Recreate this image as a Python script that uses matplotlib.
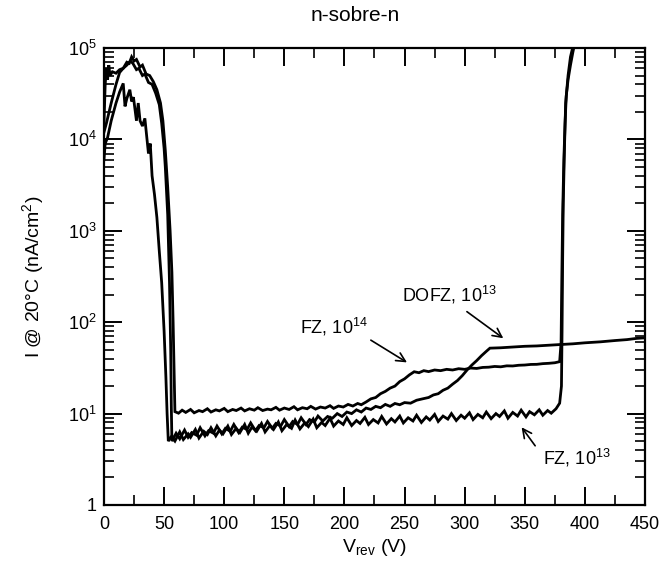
import matplotlib
matplotlib.use("Agg")
import matplotlib.pyplot as plt
from matplotlib.ticker import FixedLocator, LogLocator, NullFormatter

plt.rcParams['font.family'] = ['Liberation Sans', 'DejaVu Sans']
plt.rcParams['mathtext.fontset'] = 'custom'
plt.rcParams['mathtext.rm'] = 'Liberation Sans'
plt.rcParams['mathtext.it'] = 'Liberation Sans:italic'

# --- data (V in volts, I in nA/cm^2) ---
# FZ, 1e14 : upper flat branch, plateau ~30 then breakdown at ~380 V
fz14_v = [0, 1, 2, 3, 4, 5, 7, 10, 13, 16, 19, 21, 23, 25, 27, 30, 32, 35, 38, 41,
          44, 47, 49, 51, 53, 55, 56.5, 57.5, 58.3, 59,
          62, 65, 68, 72, 75, 79, 82, 86, 89, 93, 96, 100, 103, 107, 110, 114, 117,
          121, 125, 128, 132, 136, 139, 143, 146, 150, 154, 158, 161, 165, 169, 172,
          176, 180, 184, 188, 191, 195, 199, 203, 207, 211, 214, 218,
          222, 226, 230, 234, 238, 242, 246, 250, 254, 258,
          262, 266, 270, 275, 280, 285, 290, 295, 300, 305, 310, 315, 320, 325, 330,
          335, 340, 345, 350, 355, 360, 365, 370, 375, 379,
          380.2, 380.8, 381.5, 382.5, 383.5, 384.5, 386, 388, 390, 392]
fz14_i = [1.5e4, 4e4, 6e4, 4.5e4, 6.5e4, 5e4, 5.5e4, 5.3e4, 5.8e4, 6e4, 7e4, 6.8e4,
          8e4, 7.2e4, 7.5e4, 6.2e4, 6.5e4, 5.2e4, 5e4, 4.3e4,
          3.5e4, 2.5e4, 1.6e4, 7.6e3, 3e3, 1e3, 350, 100, 30, 10.5,
          10.1, 10.9, 10.3, 11.1, 10.2, 10.8, 10.5, 11.3, 10.4, 11.0, 10.7, 11.4, 10.5,
          11.1, 10.8, 11.5, 10.7, 11.3, 10.9, 11.6, 10.8, 11.2, 11.0, 11.7, 10.9, 11.5,
          11.1, 11.9, 11.0, 11.6, 11.3, 12.0, 11.2, 11.8, 11.5, 12.2, 11.4, 12.1, 11.8,
          12.6, 12.1, 12.9, 12.5, 13.4,
          14.5, 15.0, 16.5, 17.5, 19.0, 20.0, 22.4, 24.0, 26.5, 28.7,
          28.0, 29.5, 28.8, 30.0, 29.5, 30.5, 30.0, 31.0, 30.5, 31.5, 31.2, 32.0, 32.2,
          32.8, 32.5, 33.3, 33.2, 33.8, 34.0, 34.5, 34.6, 35.2, 35.5, 36.0, 37.0,
          60, 300, 1.5e3, 6e3, 1.5e4, 3e4, 4.5e4, 6.5e4, 9e4, 1.2e5]

# DOFZ, 1e13 : rises to ~55 at 320 V, no breakdown up to 450 V
dofz_v = [0, 2, 6, 10, 13, 16, 19, 22, 24, 27, 29, 32, 34, 37, 40, 43, 46, 48, 50, 51,
          53, 54.5, 55.5, 56, 56.5,
          60, 63, 67, 70, 73, 77, 80, 84, 87, 91, 94, 98, 101, 105, 108, 112, 115,
          119, 122, 126, 129, 133, 136, 140, 143, 147, 150, 154, 157, 161, 164, 168,
          171, 175, 178, 182, 186, 190, 194, 198, 202, 206, 210, 214, 218, 222, 226,
          230, 234, 238, 242, 246, 250, 255, 260, 265, 270, 274, 278, 282, 286, 290,
          294, 298, 302, 306, 310, 314, 318, 321,
          330, 340, 350, 360, 370, 380, 390, 400, 413, 425, 435, 443, 450]
dofz_i = [1.2e4, 1.5e4, 2.5e4, 4e4, 5.4e4, 6e4, 6.5e4, 7.2e4, 6.8e4, 5.8e4, 6e4, 5e4,
          5.2e4, 4.2e4, 4e4, 3.2e4, 2.4e4, 1.5e4, 8e3, 5e3, 1.5e3, 270, 50, 12, 5,
          6.1, 5.3, 6.6, 5.5, 6.2, 5.8, 7.0, 5.7, 6.5, 6.1, 7.3, 6.0, 6.9, 6.4, 7.6,
          6.2, 7.1, 6.7, 7.9, 6.5, 7.4, 7.0, 8.2, 6.9, 7.8, 7.3, 8.6, 7.2, 8.2, 7.6,
          9.0, 7.6, 8.6, 8.1, 9.4, 8.3, 9.3, 8.9, 10.0, 9.3, 10.4, 10.0, 11.0, 10.4,
          11.5, 11.1, 12.0, 11.6, 12.6, 12.0, 12.9, 12.5, 13.2, 13.0, 14.0, 14.5, 15.0,
          16.0, 16.5, 18.0, 19.0, 21.0, 23.0, 26.0, 30.0, 34.0, 38.0, 43.0, 48.0, 52.0,
          52.5, 53.5, 54.5, 55.0, 56.0, 57.0, 58.0, 59.5, 61.0, 63.0, 64.5, 66.5, 67.5]

# FZ, 1e13 : lowest branch, breakdown at ~380 V
fz13_v = [0, 1, 3, 6, 10, 13, 16, 17.5, 19, 21.5, 23, 24.5, 27, 28.5, 30, 32, 34,
          35.5, 37, 38.5, 40, 42, 44, 46, 48, 50, 51.5, 52.5, 53.5,
          56, 59, 63, 66, 70, 72, 76, 79, 83, 86, 89, 93, 96, 99, 103, 106, 110, 113,
          117, 120, 123, 127, 131, 134, 138, 141, 145, 148, 152, 156, 159, 163, 167,
          170, 174, 177, 181, 184, 188, 191, 195, 199, 202, 206, 210, 213, 217, 220,
          224, 228, 231, 235, 239, 242, 246, 249, 253, 257, 260, 264, 268, 271, 275,
          278, 282, 286, 289, 293, 297, 300, 304, 307, 311, 315, 318, 322, 326, 329,
          333, 336, 340, 344, 347, 351, 354, 358, 362, 365, 369, 372, 376, 379,
          380.5, 381, 381.5, 382, 383, 384, 386, 388, 390.5]
fz13_i = [6e3, 9e3, 1.05e4, 1.6e4, 2.5e4, 3.3e4, 4.1e4, 2.3e4, 2.8e4, 3.5e4, 2.6e4,
          2.9e4, 1.6e4, 2.5e4, 1.6e4, 1.4e4, 1.7e4, 1.1e4, 7e3, 9e3, 4e3, 2.5e3,
          1.4e3, 6e2, 2.7e2, 80, 25, 10, 5,
          5.6, 5.0, 6.3, 5.2, 6.0, 5.5, 6.7, 5.4, 6.4, 5.9, 7.0, 5.7, 6.6, 6.0, 7.3,
          5.9, 6.9, 6.2, 7.6, 6.1, 7.1, 6.4, 7.8, 6.3, 7.4, 6.7, 8.1, 6.5, 7.6, 6.9,
          8.5, 6.8, 7.9, 7.2, 8.7, 7.0, 8.0, 7.4, 8.9, 7.3, 8.3, 7.6, 9.0, 7.4, 8.4,
          7.8, 9.1, 7.6, 8.6, 7.9, 9.3, 7.7, 8.8, 8.1, 9.4, 7.9, 9.0, 8.3, 9.6, 8.0,
          9.2, 8.5, 9.8, 8.2, 9.4, 8.7, 10.0, 8.4, 9.6, 8.9, 10.2, 8.6, 9.8, 9.0, 10.4,
          8.8, 10.0, 9.3, 10.7, 8.9, 10.3, 9.4, 10.9, 9.2, 10.5, 9.7, 11.0, 9.6, 10.8,
          10.1, 11.3, 13.0,
          20, 80, 500, 2e3, 8e3, 2.5e4, 5e4, 8e4, 1.1e5]

x_ticks = [0, 50, 100, 150, 200, 250, 300, 350, 400, 450]
y_ticks = [1, 10, 100, 1e3, 1e4, 1e5]
y_tick_labels = ['1', r'10$^1$', r'10$^2$', r'10$^3$', r'10$^4$', r'10$^5$']

fig = plt.figure(figsize=(6.64, 5.69), dpi=100)
ax = fig.add_axes([0.1566, 0.1125, 0.8148, 0.8031])

lw = 2.0
for v, i in [(fz14_v, fz14_i), (dofz_v, dofz_i), (fz13_v, fz13_i)]:
    ax.plot(v, i, color='black', lw=lw, solid_joinstyle='miter')

ax.set_yscale('log')
ax.set_xlim(0, 450)
ax.set_ylim(1, 1e5)

ax.xaxis.set_major_locator(FixedLocator(x_ticks))
ax.xaxis.set_minor_locator(FixedLocator([25 + 50 * k for k in range(9)]))
ax.set_xticklabels([str(t) for t in x_ticks])
ax.yaxis.set_major_locator(FixedLocator(y_ticks))
ax.set_yticklabels(y_tick_labels)
ax.yaxis.set_minor_locator(LogLocator(base=10, subs=range(2, 10)))
ax.yaxis.set_minor_formatter(NullFormatter())

ax.tick_params(which='major', direction='in', top=True, right=True,
               length=13, width=1.4, labelsize=13)
ax.tick_params(which='minor', direction='in', top=True, right=True,
               length=7, width=1.2)
ax.tick_params(axis='x', which='major', pad=8)
ax.tick_params(axis='y', which='major', pad=5)
for s in ax.spines.values():
    s.set_linewidth(1.6)

ax.set_xlabel(r'V$_{\mathrm{rev}}$ (V)', fontsize=14, labelpad=3)
ax.set_ylabel(r'I @ 20°C (nA/cm$^2$)', fontsize=14, labelpad=16)
fig.text(0.535, 0.972, 'n-sobre-n', ha='center', va='center', fontsize=15)

arrow = dict(arrowstyle='->', color='black', lw=1.2, mutation_scale=16)
ax.annotate(r'DOFZ, 10$^{13}$', xy=(334, 64), xytext=(287, 198),
            ha='center', va='center', fontsize=13)
ax.annotate('', xy=(334, 64), xytext=(300, 136), arrowprops=arrow)
ax.annotate(r'FZ, 10$^{14}$', xy=(254, 35), xytext=(191, 89),
            ha='center', va='center', fontsize=13)
ax.annotate('', xy=(254, 35), xytext=(220, 66), arrowprops=arrow)
ax.annotate(r'FZ, 10$^{13}$', xy=(346, 7.5), xytext=(393, 3.24),
            ha='center', va='center', fontsize=13)
ax.annotate('', xy=(346, 7.5), xytext=(360, 4.2), arrowprops=arrow)

fig.savefig('out.png', dpi=100)
